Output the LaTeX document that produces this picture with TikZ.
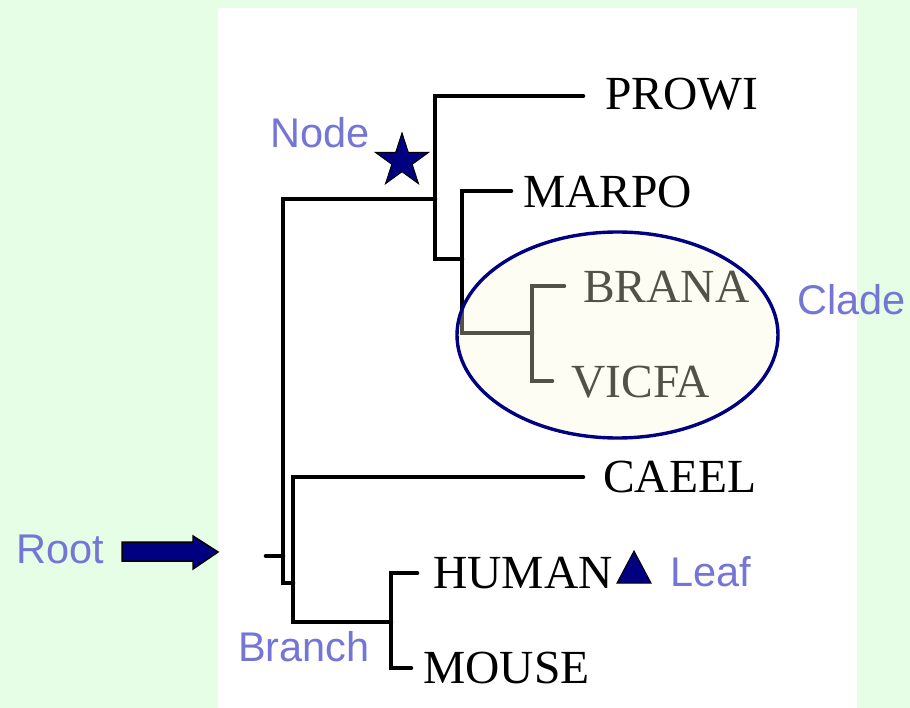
\documentclass[tikz,border=0pt]{standalone}
\usepackage{fontspec}
\setmainfont{Liberation Serif}
\setsansfont{Liberation Sans}
\usetikzlibrary{shapes.geometric}
\definecolor{fondo}{RGB}{230,253,230}
\definecolor{lila}{RGB}{117,117,214}
\definecolor{marino}{RGB}{0,0,128}
\definecolor{crema}{RGB}{250,250,222}

\begin{document}
\begin{tikzpicture}[
    x=1pt, y=-1pt,
    rama/.style={line width=4.6pt,line cap=round,line join=miter},
    hoja/.style={anchor=west,inner sep=0pt,font=\fontsize{47.5}{48}\selectfont},
    etiq/.style={anchor=west,inner sep=0pt,text=lila,font=\sffamily\fontsize{41.5}{42}\selectfont}]
    % Fondo y panel blanco.
    \fill[fondo] (0,0) rectangle (910,708);
    \fill[white] (218,8) rectangle (857,708);
    \useasboundingbox (0,0) rectangle (910,708);

    % Extremos de las ramas.
    \coordinate (raiz) at (266,556);
    \coordinate (t-prowi) at (583,96);
    \coordinate (t-marpo) at (511,191);
    \coordinate (t-brana) at (564,286);
    \coordinate (t-vicfa) at (552,381);
    \coordinate (t-caeel) at (583,477);
    \coordinate (t-human) at (417,573);
    \coordinate (t-mouse) at (411,668);

    % Nombres de las especies.
    \node[hoja] (prowi) at (605,94) {PROWI};
    \node[hoja] (marpo) at (523,192) {MARPO};
    \node[hoja] (brana) at (583,287) {BRANA};
    \node[hoja] (vicfa) at (571,382) {VICFA};
    \node[hoja] (caeel) at (603,477) {CAEEL};
    \node[hoja] (human) at (433,573) {HUMAN};
    \node[hoja] (mouse) at (423,668) {MOUSE};

    % Ramas del arbol.
    \draw[rama] (raiz) -- (283,556);
    \draw[rama] (435,199) -| (283,583) -- (293,583);
    \draw[rama] (t-caeel) -| (293,622) -- (391,622);
    \draw[rama] (t-human) -| (391,668) -- (t-mouse);
    \draw[rama] (t-prowi) -| (435,259) -- (462,259);
    \draw[rama] (t-marpo) -| (462,333) -- (532,333);
    \draw[rama] (t-brana) -| (532,381) -- (t-vicfa);

    % Clado sombreado.
    \draw[marino,line width=3.4pt,fill=crema,fill opacity=.33]
        (617.5,335) ellipse [x radius=160.5, y radius=103];

    % Marcas: nodo, hoja y raiz.
    \node[star,star points=5,star point ratio=2.618,minimum size=56pt,
        inner sep=0pt,fill=marino,draw=black,line width=1pt] (estrella) at (402,161) {};
    \draw[fill=marino,draw=black,line width=1pt]
        (617,583) -- (634,551) -- (651,583) -- cycle;
    \draw[fill=marino,draw=black,line width=1.5pt]
        (122,542) -- (193,542) -- (193,536) -- (218,552)
        -- (193,569) -- (193,561) -- (122,561) -- cycle;

    % Etiquetas.
    \node[etiq] (l-node) at (270,133) {Node};
    \node[etiq] (l-clade) at (797,300) {Clade};
    \node[etiq] (l-leaf) at (670,572) {Leaf};
    \node[etiq] (l-branch) at (238,647) {Branch};
    \node[etiq] (l-root) at (16,549) {Root};
\end{tikzpicture}
\end{document}
